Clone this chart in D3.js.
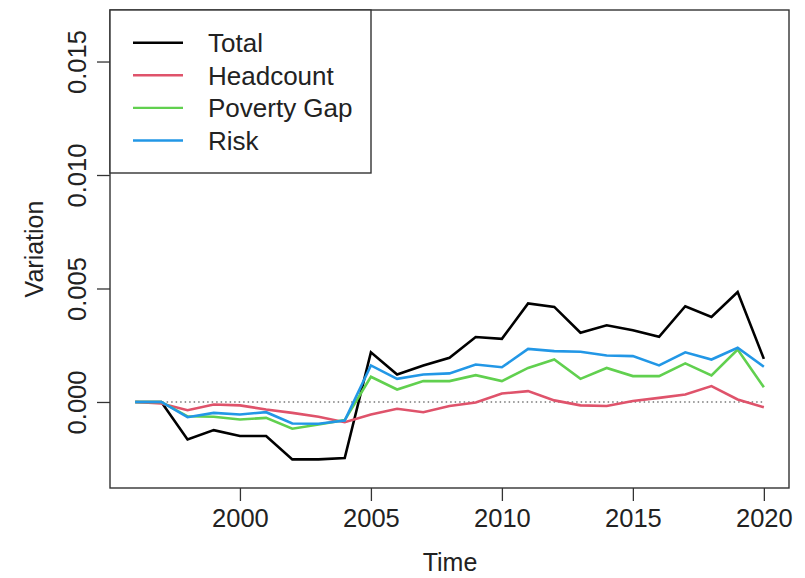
<!DOCTYPE html>
<html>
<head>
<meta charset="utf-8">
<script src="https://cdn.jsdelivr.net/npm/d3@7"></script>
<style>
  html, body { margin: 0; padding: 0; background: #fff; }
  svg { display: block; font-family: "Liberation Sans", Arial, Helvetica, sans-serif; }
</style>
</head>
<body>
<svg id="chart" width="805" height="578"></svg>
<script>
// Yearly variation series, 1996–2020
const years = d3.range(1996, 2021);

const total = [0, 0, -0.00165, -0.00124, -0.0015, -0.0015, -0.00253, -0.00253, -0.00247,
  0.00219, 0.00121, 0.00161, 0.00195, 0.00286, 0.00278, 0.00434, 0.00419, 0.00305,
  0.00338, 0.00316, 0.00287, 0.00422, 0.00375, 0.00484, 0.0019];

const headcount = [0, -0.00007, -0.00036, -0.00011, -0.00015, -0.00033, -0.00048, -0.00065, -0.00089,
  -0.00055, -0.0003, -0.00045, -0.00018, -0.00002, 0.00037, 0.00048, 0.00007, -0.00015,
  -0.00018, 0.00004, 0.00018, 0.00033, 0.0007, 0.00011, -0.00023];

const povertyGap = [0, 0, -0.00063, -0.00065, -0.00077, -0.0007, -0.00118, -0.00099, -0.0008,
  0.00111, 0.00055, 0.00092, 0.00092, 0.00118, 0.00092, 0.0015, 0.00187, 0.00102,
  0.0015, 0.00114, 0.00114, 0.0017, 0.00117, 0.00231, 0.00065];

const risk = [0, 0, -0.00067, -0.00048, -0.00055, -0.00045, -0.00095, -0.00096, -0.00082,
  0.00161, 0.00102, 0.00121, 0.00126, 0.00165, 0.00153, 0.00234, 0.00224, 0.00221,
  0.00205, 0.00202, 0.00161, 0.00219, 0.00187, 0.00239, 0.00155];

const seriesNames = ["Total", "Headcount", "Poverty Gap", "Risk"];
const seriesColors = ["#000000", "#DF536B", "#61D04F", "#2297E6"];
const seriesValues = [total, headcount, povertyGap, risk];

const xTicks = [2000, 2005, 2010, 2015, 2020];
const yTicks = [0, 0.005, 0.01, 0.015];
const yTickLabels = ["0.000", "0.005", "0.010", "0.015"];

// Plot region
const plotLeft = 110, plotRight = 789, plotTop = 10, plotBottom = 488;

const svg = d3.select("#chart");

const x = d3.scaleLinear()
  .domain([1996 - 0.96, 2020 + 0.96])
  .range([plotLeft, plotRight]);

const y = d3.scaleLinear()
  .domain([-0.00379, 0.01727])
  .range([plotBottom, plotTop]);

const fontSize = 25.5;

// Bottom axis
const xAxis = svg.append("g")
  .attr("transform", `translate(0,${plotBottom})`)
  .call(d3.axisBottom(x).tickValues(xTicks).tickFormat(d3.format("d")).tickSize(13).tickPadding(8));
xAxis.select(".domain").remove();
xAxis.selectAll("line").attr("stroke", "#333").attr("stroke-width", 1.3);
xAxis.selectAll("text")
  .attr("font-size", fontSize)
  .attr("font-family", "'Liberation Sans', Arial, sans-serif")
  .attr("fill", "#222");

// Left axis, labels rotated parallel to the axis
const yAxis = svg.append("g")
  .attr("transform", `translate(${plotLeft},0)`)
  .call(d3.axisLeft(y).tickValues(yTicks).tickFormat((d, i) => yTickLabels[i]).tickSize(13));
yAxis.select(".domain").remove();
yAxis.selectAll("line").attr("stroke", "#333").attr("stroke-width", 1.3);
yAxis.selectAll("text")
  .attr("font-size", fontSize)
  .attr("font-family", "'Liberation Sans', Arial, sans-serif")
  .attr("fill", "#222")
  .attr("x", null)
  .attr("dy", null)
  .attr("text-anchor", "middle")
  .attr("transform", "translate(-24,0) rotate(-90)");

// Axis titles
svg.append("text")
  .attr("x", (plotLeft + plotRight) / 2 + 0.5)
  .attr("y", 571)
  .attr("text-anchor", "middle")
  .attr("font-size", 25)
  .attr("fill", "#222")
  .text("Time");

svg.append("text")
  .attr("transform", `translate(43,${(plotTop + plotBottom) / 2}) rotate(-90)`)
  .attr("text-anchor", "middle")
  .attr("font-size", 25)
  .attr("fill", "#222")
  .text("Variation");

// Zero reference line
svg.append("line")
  .attr("x1", x(1996)).attr("x2", x(2020))
  .attr("y1", y(0)).attr("y2", y(0))
  .attr("stroke", "#777")
  .attr("stroke-width", 1.5)
  .attr("stroke-dasharray", "1.5,3");

// Series lines
const line = d3.line()
  .x((d, i) => x(years[i]))
  .y(d => y(d));

svg.append("g")
  .selectAll("path")
  .data(seriesValues)
  .join("path")
  .attr("d", line)
  .attr("fill", "none")
  .attr("stroke", (d, i) => seriesColors[i])
  .attr("stroke-width", 2.6)
  .attr("stroke-linejoin", "miter")
  .attr("stroke-linecap", "butt");

// Plot frame
svg.append("rect")
  .attr("x", plotLeft).attr("y", plotTop)
  .attr("width", plotRight - plotLeft).attr("height", plotBottom - plotTop)
  .attr("fill", "none")
  .attr("stroke", "#333")
  .attr("stroke-width", 1.4);

// Legend in the top-left corner
const legend = svg.append("g");
legend.append("rect")
  .attr("x", plotLeft).attr("y", plotTop)
  .attr("width", 261).attr("height", 163)
  .attr("fill", "#fff")
  .attr("stroke", "#333")
  .attr("stroke-width", 1.4);

const legendRows = legend.selectAll("g.row")
  .data(seriesNames)
  .join("g")
  .attr("class", "row")
  .attr("transform", (d, i) => `translate(0,${42.7 + i * 32.6})`);

legendRows.append("line")
  .attr("x1", 133).attr("x2", 183)
  .attr("y1", 0).attr("y2", 0)
  .attr("stroke", (d, i) => seriesColors[i])
  .attr("stroke-width", 2.4);

legendRows.append("text")
  .attr("x", 208)
  .attr("y", 0)
  .attr("dy", "0.36em")
  .attr("font-size", 26)
  .attr("fill", "#222")
  .text(d => d);
</script>
</body>
</html>
